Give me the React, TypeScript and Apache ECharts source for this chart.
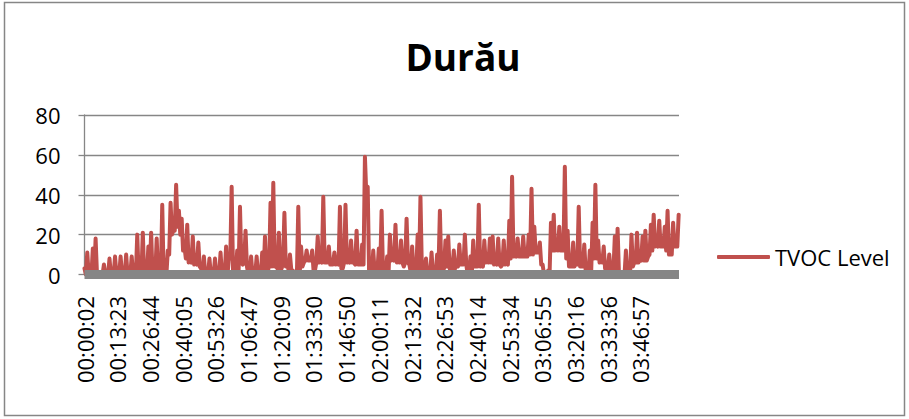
import React, { useEffect, useRef } from "react";
import * as echarts from "echarts";

const chartTitle = "Durău";
const seriesName = "TVOC Level";
const tickLabels = [
  "00:00:02", "00:13:23", "00:26:44", "00:40:05", "00:53:26", "01:06:47",
  "01:20:09", "01:33:30", "01:46:50", "02:00:11", "02:13:32", "02:26:53",
  "02:40:14", "02:53:34", "03:06:55", "03:20:16", "03:33:36", "03:46:57",
];
const labelStepSeconds = 801;
const sampleSeconds = 68;
const xMaxSeconds = 14560;
const yTicks = [0, 20, 40, 60, 80];

// readings at each sample (local maxima / values along the trace)
const tvocLevel = [
  3, 11, 2, 13, 18, 1, 0, 5, 1, 8,
  2, 9, 1, 9, 2, 10, 1, 9, 2, 20,
  3, 21, 0, 14, 21, 1, 18, 5, 35, 0,
  12, 36, 22, 45, 32, 28, 14, 25, 7, 19,
  6, 16, 3, 9, 0, 8, 0, 8, 0, 11,
  2, 14, 8, 44, 1, 12, 34, 5, 22, 0,
  9, 0, 9, 0, 11, 19, 2, 36, 46, 4,
  21, 3, 31, 6, 10, 2, 0, 34, 14, 6,
  12, 7, 12, 2, 19, 7, 39, 6, 14, 5,
  11, 6, 34, 3, 35, 7, 17, 6, 22, 5,
  15, 59, 44, 1, 12, 2, 13, 32, 3, 9,
  20, 8, 25, 10, 17, 4, 28, 5, 14, 1,
  20, 39, 3, 8, 0, 11, 0, 10, 32, 3,
  17, 19, 4, 12, 6, 15, 5, 20, 0, 9,
  17, 4, 35, 5, 17, 8, 18, 19, 6, 18,
  4, 17, 6, 27, 49, 10, 18, 9, 19, 9,
  20, 43, 24, 11, 16, 5, 0, 2, 26, 30,
  17, 24, 12, 54, 22, 4, 16, 8, 34, 4,
  15, 0, 12, 26, 45, 17, 8, 14, 4, 10,
  3, 19, 23, 1, 0, 12, 0, 20, 6, 21,
  8, 19, 22, 9, 25, 30, 15, 27, 14, 24,
  32, 10, 26, 14, 30,
];

// readings of the trace's lower envelope, half a sample after each reading above
const tvocLow = [
  0, 0, 0, 0, 0, 0, 0, 0, 0, 0,
  0, 0, 0, 0, 0, 0, 0, 0, 0, 0,
  0, 0, 0, 0, 0, 0, 0, 0, 0, 0,
  10, 20, 22, 24, 20, 12, 8, 6, 6, 5,
  5, 4, 0, 0, 0, 0, 0, 0, 0, 0,
  0, 0, 8, 1, 1, 2, 6, 6, 4, 0,
  0, 0, 0, 0, 0, 0, 4, 4, 4, 3,
  3, 6, 4, 2, 2, 1, 0, 0, 4, 7,
  7, 7, 2, 6, 6, 6, 6, 6, 5, 5,
  5, 5, 3, 6, 6, 6, 6, 5, 5, 5,
  5, 40, 1, 1, 1, 2, 2, 2, 0, 0,
  7, 7, 6, 6, 6, 6, 6, 1, 1, 3,
  3, 3, 3, 0, 0, 0, 0, 3, 3, 3,
  4, 3, 3, 3, 4, 5, 5, 5, 0, 0,
  4, 4, 4, 4, 6, 6, 6, 5, 5, 5,
  5, 5, 5, 8, 9, 9, 9, 9, 9, 9,
  10, 10, 11, 11, 5, 0, 0, 0, 12, 12,
  12, 12, 12, 8, 4, 4, 4, 5, 4, 4,
  2, 0, 2, 8, 8, 6, 6, 3, 3, 2,
  2, 1, 0, 0, 0, 0, 0, 4, 6, 6,
  7, 7, 7, 10, 12, 14, 14, 14, 14, 12,
  10, 10, 14, 14,
];

const FONT = '"Open Sans", "Noto Sans", sans-serif';
const GRAY = "#868686";
const RED = "#C0504D";

export default function App() {
  const ref = useRef<HTMLDivElement>(null);
  useEffect(() => {
    if (!ref.current) return;
    const chart = echarts.init(ref.current, undefined, { renderer: "svg" });
    const data: number[][] = [];
    tvocLevel.forEach((v, i) => {
      data.push([i * sampleSeconds, v]);
      if (i < tvocLow.length) data.push([i * sampleSeconds + sampleSeconds / 2, tvocLow[i]]);
    });
    chart.setOption({
      animation: false,
      backgroundColor: "#ffffff",
      textStyle: { fontFamily: FONT },
      graphic: [
        {
          type: "rect",
          shape: { x: 4.5, y: 2.5, width: 900, height: 413 },
          style: { fill: "none", stroke: GRAY, lineWidth: 1.5 },
          silent: true,
        },
        {
          type: "text",
          x: 463,
          y: 56,
          style: {
            text: chartTitle,
            textAlign: "center",
            textVerticalAlign: "middle",
            font: `bold 37px ${FONT}`,
            fill: "#000000",
          },
        },
      ],
      legend: {
        show: true,
        data: [seriesName],
        left: 712,
        top: 241,
        icon: "roundRect",
        itemWidth: 53,
        itemHeight: 4,
        textStyle: { fontSize: 22, color: "#000", fontFamily: FONT },
      },
      grid: { left: 84.5, right: 230, top: 115, bottom: 144.5, containLabel: false },
      xAxis: {
        type: "value",
        min: 0,
        max: xMaxSeconds,
        interval: labelStepSeconds,
        z: 5,
        offset: 4.5,
        axisLine: { show: true, lineStyle: { color: GRAY, width: 9, cap: "butt" } },
        axisTick: { show: false },
        splitLine: { show: false },
        axisLabel: {
          rotate: 90,
          margin: 17,
          fontSize: 22,
          color: "#000",
          fontFamily: FONT,
          showMaxLabel: false,
          formatter: (v: number) => {
            const k = v / labelStepSeconds;
            const r = Math.round(k);
            return Math.abs(k - r) < 1e-6 && r < tickLabels.length ? tickLabels[r] : "";
          },
        },
      },
      yAxis: {
        type: "value",
        min: yTicks[0],
        max: yTicks[yTicks.length - 1],
        interval: 20,
        axisLine: { show: true, lineStyle: { color: GRAY, width: 1.3 } },
        axisTick: { show: true, length: 6, lineStyle: { color: GRAY, width: 1.3 } },
        splitLine: { show: true, lineStyle: { color: GRAY, width: 1.3 } },
        axisLabel: { fontSize: 22, color: "#000", margin: 24, fontFamily: FONT },
      },
      series: [
        {
          name: seriesName,
          type: "line",
          data,
          showSymbol: false,
          symbol: "none",
          color: RED,
          lineStyle: { color: RED, width: 4, join: "round", cap: "round" },
        },
      ],
    });
    return () => chart.dispose();
  }, []);
  return (
    <div
      ref={ref}
      style={{ position: "fixed", left: 0, top: 0, width: 909, height: 419 }}
    />
  );
}
